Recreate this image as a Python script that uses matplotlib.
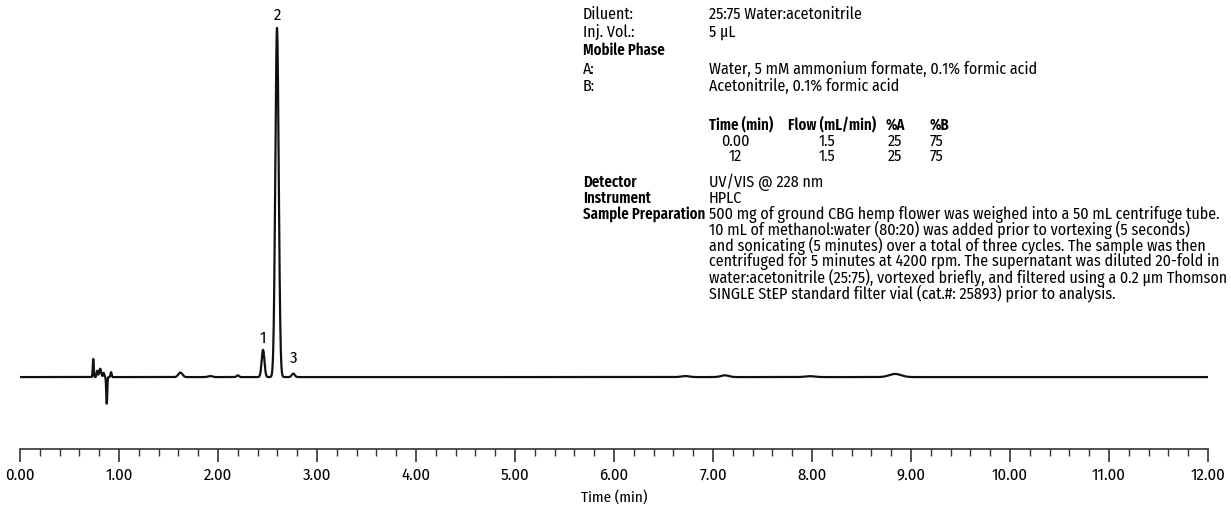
import numpy as np
import matplotlib
matplotlib.use("Agg")
import matplotlib.pyplot as plt
from matplotlib import font_manager as fm

# pick a condensed sans if one is available
available = set(f.name for f in fm.fontManager.ttflist)
candidates = ['Fira Sans Condensed', 'Roboto Condensed', 'IBM Plex Sans Condensed',
              'Encode Sans Condensed', 'Barlow Semi Condensed', 'Liberation Sans Narrow', 'Lato']
chosen = [c for c in candidates if c in available][:1]
plt.rcParams['font.family'] = chosen + ['DejaVu Sans']
bold_candidates = ['Fira Sans Extra Condensed', 'Roboto Condensed'] + candidates
bold_family = [c for c in bold_candidates if c in available][:1] + ['DejaVu Sans']

# Peak table: retention time (min), height (rel.), sigma (min)
peak_times = [0.74, 0.78, 0.81, 0.845, 0.876, 0.92, 1.62, 1.92, 2.20, 2.455, 2.596, 2.76, 6.72, 7.12, 7.98, 8.84]
peak_heights = [5.2, 1.8, 2.4, 1.2, -7.6, 1.4, 1.3, 0.3, 0.5, 7.8, 100.0, 1.0, 0.3, 0.5, 0.25, 0.9]
peak_sigmas = [0.005, 0.006, 0.01, 0.006, 0.005, 0.006, 0.02, 0.02, 0.012, 0.014, 0.017, 0.015, 0.04, 0.04, 0.05, 0.06]

peak_labels = ["1", "2", "3"]
label_times = [2.45, 2.596, 2.76]
label_heights = [11.0, 103.5, 5.3]

tick_times = np.arange(0, 12.01, 1.0)
tick_labels = ["%.2f" % t for t in tick_times]

# build the trace from the peak table
t = np.linspace(0, 12, 12001)
signal = np.zeros_like(t)
for rt, h, s in zip(peak_times, peak_heights, peak_sigmas):
    signal += h * np.exp(-0.5 * ((t - rt) / s) ** 2)

W, H = 1231, 507
fig = plt.figure(figsize=(W / 100, H / 100), dpi=100)
ax = fig.add_axes([20 / W, 1 - 449 / H, 1188 / W, 449 / H])
ax.plot(t, signal, color='#111111', lw=1.6)
ax.set_xlim(0, 12)
ax.set_ylim(-20.6, 108)

for lab, lt, lh in zip(peak_labels, label_times, label_heights):
    ax.text(lt, lh, lab, ha='center', va='center', fontsize=12)

for s in ['top', 'right', 'left']:
    ax.spines[s].set_visible(False)
ax.spines['bottom'].set_color('#333333')
ax.spines['bottom'].set_linewidth(1.2)
ax.set_yticks([])
ax.set_xticks(tick_times)
ax.set_xticklabels(tick_labels, fontsize=12)
ax.set_xticks(np.arange(0, 12.01, 0.2), minor=True)
ax.tick_params(axis='x', which='major', length=9, width=1.2, color='#333333', pad=4)
ax.tick_params(axis='x', which='minor', length=5, width=1.0, color='#333333')
ax.set_xlabel('Time (min)', fontsize=11, labelpad=5)

# method conditions text block
def px(x, y):
    return x / W, 1 - y / H

fs = 11.5
fs_bold = 11.5
left_rows = [("Diluent:", False, 14), ("Inj. Vol.:", False, 32), ("Mobile Phase", True, 50),
             ("A:", False, 69), ("B:", False, 86), ("Detector", True, 182),
             ("Instrument", True, 198), ("Sample Preparation", True, 214)]
right_rows = [("25:75 Water:acetonitrile", 14), ("5 µL", 32),
              ("Water, 5 mM ammonium formate, 0.1% formic acid", 69),
              ("Acetonitrile, 0.1% formic acid", 86),
              ("UV/VIS @ 228 nm", 182), ("HPLC", 198)]
for txt, bold, y in left_rows:
    if bold:
        fig.text(*px(583, y), txt, fontsize=fs_bold, va='center', fontweight='semibold', family=bold_family)
    else:
        fig.text(*px(583, y), txt, fontsize=fs, va='center')
for txt, y in right_rows:
    fig.text(*px(709, y), txt, fontsize=fs, va='center')

table_header = ["Time (min)", "Flow (mL/min)", "%A", "%B"]
table_rows = [["0.00", "1.5", "25", "75"], ["12", "1.5", "25", "75"]]
header_x = [709, 788, 886, 929]
col_centers = [735, 827, 895, 937]
for h, x in zip(table_header, header_x):
    fig.text(*px(x, 125), h, fontsize=fs, va='center', fontweight='semibold', family=bold_family)
for row, y in zip(table_rows, [141, 156]):
    for v, x in zip(row, col_centers):
        fig.text(*px(x, y), v, fontsize=fs, va='center', ha='center')

prep = ("500 mg of ground CBG hemp flower was weighed into a 50 mL centrifuge tube.\n"
        "10 mL of methanol:water (80:20) was added prior to vortexing (5 seconds)\n"
        "and sonicating (5 minutes) over a total of three cycles. The sample was then\n"
        "centrifuged for 5 minutes at 4200 rpm. The supernatant was diluted 20-fold in\n"
        "water:acetonitrile (25:75), vortexed briefly, and filtered using a 0.2 µm Thomson\n"
        "SINGLE StEP standard filter vial (cat.#: 25893) prior to analysis.")
fig.text(*px(709, 206), prep, fontsize=fs, va='top', linespacing=0.86)

fig.savefig('out.png', dpi=100)
